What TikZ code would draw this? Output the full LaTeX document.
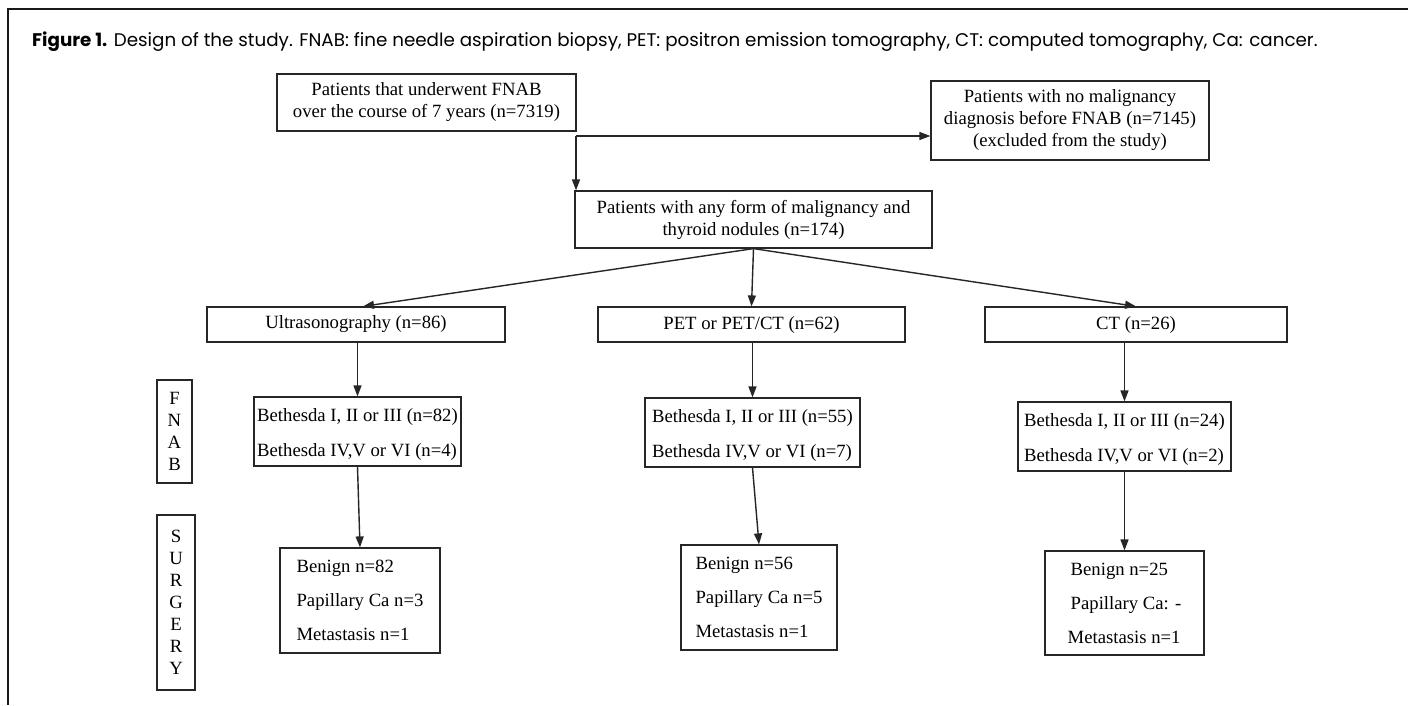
\documentclass[tikz,border=0pt]{standalone}
\usepackage{fontspec}
\setmainfont{Liberation Serif}
\newfontfamily\capfont{Poppins}
\usetikzlibrary{arrows.meta,calc}
\begin{document}
\begin{tikzpicture}[x=1pt,y=-1pt,
  box/.style={draw=black!85,line width=1.2pt,inner sep=0pt,font=\fontsize{18.7}{22}\selectfont},
  conn/.style={draw=black!85,line width=1.4pt,-{Triangle[length=11pt,width=8pt]}}]
\useasboundingbox (0,0) rectangle (1408,705);
\fill[white] (0,0) rectangle (1408,705);
% frame
\draw[line width=2.6pt,black!90] (1408,9) -- (8,9) -- (8,705);
% caption
\node[anchor=west,inner sep=0pt,font=\capfont\fontsize{18.3}{22}\selectfont] (cap) at (32,42)
  {\textbf{Figure 1.} Design of the study. FNAB: fine needle aspiration biopsy, PET: positron emission tomography, CT: computed tomography, Ca: cancer.};
% boxes
\node[box,minimum width=299pt,minimum height=57pt,align=center] (top) at (426.5,102.5)
  {Patients that underwent FNAB\\over the course of 7 years (n=7319)};
\node[box,minimum width=278pt,minimum height=79pt,align=center] (excl) at (1070,120.5)
  {Patients with no malignancy\\diagnosis before FNAB (n=7145)\\(excluded from the study)};
\node[box,minimum width=357pt,minimum height=57pt,align=center] (mid) at (753.5,219.5)
  {Patients with any form of malignancy and\\thyroid nodules (n=174)};
\node[box,minimum width=298pt,minimum height=35pt] (us) at (356,324.5) {Ultrasonography (n=86)};
\node[box,minimum width=307pt,minimum height=35pt] (pet) at (751.5,324.5) {PET or PET/CT (n=62)};
\node[box,minimum width=302pt,minimum height=35pt] (ct) at (1136,324.5) {CT (n=26)};
\node[box,minimum width=207pt,minimum height=69pt,align=left] (b1) at (357.5,431.5)
  {\rule{0pt}{18pt}Bethesda I, II or III (n=82)\\[13pt]Bethesda IV,V or VI (n=4)};
\node[box,minimum width=215pt,minimum height=69pt,align=left] (b2) at (752.5,432.5)
  {\rule{0pt}{18pt}Bethesda I, II or III (n=55)\\[13pt]Bethesda IV,V or VI (n=7)};
\node[box,minimum width=213pt,minimum height=69pt,align=left] (b3) at (1124.5,436.5)
  {\rule{0pt}{18pt}Bethesda I, II or III (n=24)\\[13pt]Bethesda IV,V or VI (n=2)};
\node[box,minimum width=160pt,minimum height=105pt,align=left] (s1) at (360,600.5)
  {Benign n=82\\[12pt]Papillary Ca n=3\\[12pt]Metastasis n=1};
\node[box,minimum width=156pt,minimum height=105pt,align=left] (s2) at (759,597.5)
  {Benign n=56\\[12pt]Papillary Ca n=5\\[12pt]Metastasis n=1};
\node[box,minimum width=159pt,minimum height=104pt,align=left] (s3) at (1124.5,603)
  {\hspace*{3pt}Benign n=25\\[12pt]\hspace*{3pt}Papillary Ca: -\\[12pt]Metastasis n=1};
\node[box,minimum width=35pt,minimum height=103pt,align=center] (fnab) at (174.5,431.5)
  {F\\N\\A\\B};
\node[box,minimum width=38pt,minimum height=175pt,align=center] (surg) at (176,602.5)
  {S\\U\\R\\G\\E\\R\\Y};
% connectors
\coordinate (j) at (576,136);
\draw[conn] (j) -- (j -| excl.west);
\draw[conn] (j) -- (j |- mid.north);
\draw[conn] (mid.south) -- ($(us.north)+(7,0)$);
\draw[conn] (mid.south) -- (pet.north);
\draw[conn] (mid.south) -- (ct.north);
\draw[conn] (b1.north |- us.south) -- (b1.north);
\draw[conn] (b1.south) -- (s1.north);
\draw[conn] (b2.north |- pet.south) -- (b2.north);
\draw[conn] (b2.south) -- (s2.north);
\draw[conn] (b3.north |- ct.south) -- (b3.north);
\draw[conn] (b3.south) -- (s3.north);
\end{tikzpicture}
\end{document}
